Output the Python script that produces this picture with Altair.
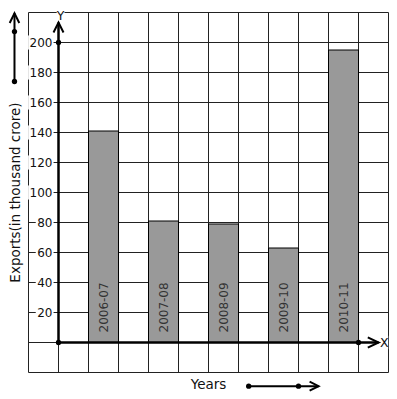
import altair as alt
import pandas as pd

# ---- data ----
years = ["2006-07", "2007-08", "2008-09", "2009-10", "2010-11"]
exports = [141, 81, 79, 63, 195]
y_ticks = [20, 40, 60, 80, 100, 120, 140, 160, 180, 200]
grid_x = list(range(-1, 12))
grid_y = list(range(-20, 221, 20))

FONT = "DejaVu Sans"
xs = alt.Scale(domain=[-1, 11], nice=False, zero=False)
ys = alt.Scale(domain=[-20, 220], nice=False, zero=False)

bars_df = pd.DataFrame({
    "year": years,
    "value": exports,
    "x0": [2 * i + 1 for i in range(len(years))],
    "x1": [2 * i + 2 for i in range(len(years))],
    "xc": [2 * i + 1.5 for i in range(len(years))],
})
ticks_df = pd.DataFrame({"v": y_ticks, "lab": [str(t) for t in y_ticks]})

# annotation geometry (axis arrows) in data units
LX = -1.467  # left decorative arrow
axis_lines = pd.DataFrame({
    "g": ["ya", "ya", "xa", "xa"],
    "o": [0, 1, 0, 1],
    "x": [0, 0, 0, 10.67],
    "y": [0, 213.3, 0, 0],
})
arrow_lines = pd.DataFrame({
    "g": ["yh"] * 3 + ["xh"] * 3 + ["ls"] * 2 + ["lh"] * 3 + ["bs"] * 2 + ["bh"] * 3,
    "o": [0, 1, 2, 0, 1, 2, 0, 1, 0, 1, 2, 0, 1, 0, 1, 2],
    "x": [-0.167, 0, 0.167,
          10.31, 10.67, 10.31,
          LX, LX,
          LX - 0.16, LX, LX + 0.16,
          6.34, 8.67,
          8.37, 8.67, 8.37],
    "y": [206.7, 213.3, 206.7,
          3.4, 0, -3.4,
          174, 219.5,
          213, 219.5, 213,
          -29.1, -29.1,
          -26.1, -29.1, -32.1],
})
dots = pd.DataFrame({
    "x": [0, 0, 10, LX, LX, 6.34, 8.0],
    "y": [0, 200, 0, 207.3, 174, -29.1, -29.1],
})
letters = pd.DataFrame({"t": ["Y", "X"], "x": [0.07, 10.86], "y": [217.6, 0],
                        "h": [3.5, 4.5]})

vgrid = alt.Chart(pd.DataFrame({"gx": grid_x})).mark_rule(
    color="#222", strokeWidth=1).encode(x=alt.X("gx:Q", scale=xs, axis=None))
hgrid = alt.Chart(pd.DataFrame({"gy": grid_y})).mark_rule(
    color="#222", strokeWidth=1).encode(y=alt.Y("gy:Q", scale=ys, axis=None))

bars = alt.Chart(bars_df).mark_bar(color="#999999", stroke="black", strokeWidth=1).encode(
    x=alt.X("x0:Q", scale=xs, axis=None), x2="x1:Q",
    y=alt.Y("value:Q", scale=ys, axis=None), y2=alt.datum(0))

bar_labels = alt.Chart(bars_df).mark_text(
    angle=270, align="left", baseline="middle", dx=10, font=FONT, fontSize=12,
    color="#333").encode(
    x=alt.X("xc:Q", scale=xs), y=alt.datum(0), text="year:N")

tick_bg = alt.Chart(ticks_df).transform_calculate(
    bx="-0.2 - (length(datum.lab) * 7.63 + 1.5) / 30",
    bx2="-0.165",
    by="datum.v - 4.7", by2="datum.v + 4.7",
).mark_rect(color="white").encode(
    x=alt.X("bx:Q", scale=xs), x2="bx2:Q",
    y=alt.Y("by:Q", scale=ys), y2="by2:Q")

tick_labels = alt.Chart(ticks_df).mark_text(
    align="right", baseline="middle", font=FONT, fontSize=12, color="#111").encode(
    x=alt.datum(-0.2), y=alt.Y("v:Q", scale=ys), text="lab:N")

letter_bg = alt.Chart(letters).transform_calculate(
    bx="datum.x - 0.13", bx2="datum.x + 0.13",
    by="datum.y - datum.h", by2="datum.y + datum.h",
).mark_rect(color="white").encode(
    x=alt.X("bx:Q", scale=xs), x2="bx2:Q",
    y=alt.Y("by:Q", scale=ys), y2="by2:Q")
letter_text = alt.Chart(letters).mark_text(
    align="center", baseline="middle", font=FONT, fontSize=12.5, color="#111").encode(
    x=alt.X("x:Q", scale=xs), y=alt.Y("y:Q", scale=ys), text="t:N")

axes = alt.Chart(axis_lines).mark_line(color="black", strokeWidth=2.5).encode(
    x=alt.X("x:Q", scale=xs), y=alt.Y("y:Q", scale=ys), detail="g:N", order="o:Q")
arrows = alt.Chart(arrow_lines).mark_line(color="black", strokeWidth=2).encode(
    x=alt.X("x:Q", scale=xs), y=alt.Y("y:Q", scale=ys), detail="g:N", order="o:Q")
dot_marks = alt.Chart(dots).mark_point(filled=True, color="black", size=28, opacity=1).encode(
    x=alt.X("x:Q", scale=xs), y=alt.Y("y:Q", scale=ys))

years_txt = alt.Chart(pd.DataFrame({"t": ["Years"]})).mark_text(
    align="center", baseline="middle", font=FONT, fontSize=13.5, color="#111").encode(
    x=alt.datum(5.0), y=alt.datum(-28.3), text="t:N")
ylab_txt = alt.Chart(pd.DataFrame({"t": ["Exports(in thousand crore)"]})).mark_text(
    align="center", baseline="middle", angle=270, font=FONT, fontSize=13.5,
    color="#111").encode(
    x=alt.datum(-1.43), y=alt.datum(100), text="t:N")

chart = alt.layer(
    vgrid, hgrid, bars, bar_labels, tick_bg, tick_labels, letter_bg, letter_text,
    axes, arrows, dot_marks, years_txt, ylab_txt
).properties(
    width=360, height=360,
    autosize=alt.AutoSizeParams(type="none"),
    padding={"left": 20.5, "top": 4.5, "right": 0, "bottom": 24},
    background="white",
).configure_view(stroke=None)

chart.save("out.html", embed_options={"renderer": "svg", "actions": False})
